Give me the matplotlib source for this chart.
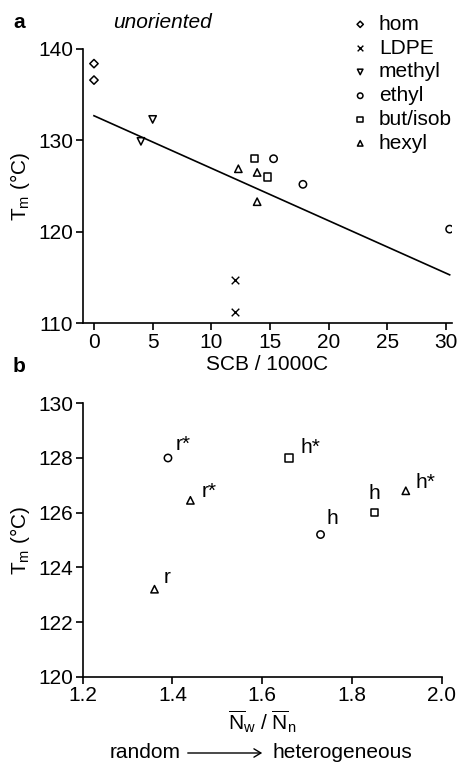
import matplotlib
matplotlib.use("Agg")
import matplotlib.pyplot as plt
import numpy as np

plt.rcParams['font.family'] = ['Liberation Sans', 'DejaVu Sans']
plt.rcParams['mathtext.fontset'] = 'custom'
plt.rcParams['mathtext.rm'] = 'Liberation Sans'
plt.rcParams['mathtext.it'] = 'Liberation Sans:italic'
plt.rcParams['font.size'] = 15

# panel a: Tm vs short chain branches
hom_x = [0, 0]
hom_y = [138.4, 136.6]
ldpe_x = [12, 12]
ldpe_y = [114.7, 111.2]
methyl_x = [4, 5]
methyl_y = [129.9, 132.3]
ethyl_x = [15.3, 17.8, 30.3]
ethyl_y = [128.0, 125.2, 120.3]
butisob_x = [13.7, 14.8]
butisob_y = [128.0, 126.0]
hexyl_x = [12.3, 13.9, 13.9]
hexyl_y = [126.9, 126.5, 123.3]
fit_x = [0, 30.3]
fit_y = [132.7, 115.3]

# panel b: Tm vs polydispersity of branch distribution
b_ethyl_x = [1.39, 1.73]
b_ethyl_y = [128.0, 125.2]
b_ethyl_lab = ["r*", "h"]
b_but_x = [1.66, 1.85]
b_but_y = [128.0, 126.0]
b_but_lab = ["h*", "h"]
b_hex_x = [1.36, 1.44, 1.92]
b_hex_y = [123.2, 126.45, 126.8]
b_hex_lab = ["r", "r*", "h*"]

W, H = 459, 763
fig = plt.figure(figsize=(W / 100, H / 100), dpi=100)

ax1 = fig.add_axes([82.7 / W, 1 - 323.3 / H, (452 - 82.7) / W, (323.3 - 49) / H])
ax2 = fig.add_axes([82.7 / W, 1 - 676.7 / H, (441.7 - 82.7) / W, (676.7 - 403.3) / H])

mk = dict(facecolor='none', edgecolor='black', linewidths=1.1, s=28)

ax1.scatter(hom_x, hom_y, marker='D', label='hom', **dict(mk, s=18))
ax1.scatter(ldpe_x, ldpe_y, marker='x', color='black', linewidths=1.0, s=30, label='LDPE')
ax1.scatter(methyl_x, methyl_y, marker='v', label='methyl', **mk)
ax1.scatter(ethyl_x, ethyl_y, marker='o', label='ethyl', **mk)
ax1.scatter(butisob_x, butisob_y, marker='s', label='but/isob', **mk)
ax1.scatter(hexyl_x, hexyl_y, marker='^', label='hexyl', **mk)
ax1.plot(fit_x, fit_y, color='black', lw=1.2)

ax1.set_xlim(-0.96, 30.5)
ax1.set_ylim(110, 140)
ax1.set_xticks([0, 5, 10, 15, 20, 25, 30])
ax1.set_yticks([110, 120, 130, 140])
ax1.set_xlabel('SCB / 1000C', labelpad=2)
ax1.set_ylabel(r'T$_\mathrm{m}$ (°C)', labelpad=4)

leg = ax1.legend(loc='upper left', bbox_to_anchor=(0.695, 1.155), frameon=False,
                 handletextpad=0.3, labelspacing=0.23, markerscale=0.75,
                 handlelength=1.2, borderaxespad=0)

ax2.scatter(b_ethyl_x, b_ethyl_y, marker='o', **mk)
ax2.scatter(b_but_x, b_but_y, marker='s', **mk)
ax2.scatter(b_hex_x, b_hex_y, marker='^', **mk)

# label offsets (pixels) as in the original figure
offs_ethyl = [(8, 13), (6, 16)]
offs_but = [(11, 10), (-6, 19)]
offs_hex = [(9, 12), (11, 9), (10, 8)]
for xs, ys, labs, offs in [(b_ethyl_x, b_ethyl_y, b_ethyl_lab, offs_ethyl),
                           (b_but_x, b_but_y, b_but_lab, offs_but),
                           (b_hex_x, b_hex_y, b_hex_lab, offs_hex)]:
    for x, y, t, o in zip(xs, ys, labs, offs):
        ax2.annotate(t, (x, y), xytext=o, textcoords='offset pixels',
                     ha='left', va='center', fontsize=15)

ax2.set_xlim(1.2, 2.0)
ax2.set_ylim(120, 130)
ax2.set_xticks([1.2, 1.4, 1.6, 1.8, 2.0])
ax2.set_yticks([120, 122, 124, 126, 128, 130])
ax2.set_xlabel(r'$\overline{\mathrm{N}}_\mathrm{w}$ / $\overline{\mathrm{N}}_\mathrm{n}$', labelpad=2)
ax2.set_ylabel(r'T$_\mathrm{m}$ (°C)', labelpad=4)

for ax in (ax1, ax2):
    ax.spines['top'].set_visible(False)
    ax.spines['right'].set_visible(False)
    ax.spines['left'].set_linewidth(1.2)
    ax.spines['bottom'].set_linewidth(1.2)
    ax.tick_params(direction='out', length=5, width=1.2, pad=2, labelsize=15)

ax2.xaxis.set_major_formatter(matplotlib.ticker.FormatStrFormatter('%.1f'))
ax1.xaxis.set_major_formatter(matplotlib.ticker.FormatStrFormatter('%d'))

fig.text(13 / W, 1 - 23 / H, 'a', fontweight='bold', fontsize=15, va='center', ha='left')
fig.text(163 / W, 1 - 23 / H, 'unoriented', fontstyle='italic', fontsize=15, va='center', ha='center')
fig.text(13 / W, 1 - 367 / H, 'b', fontweight='bold', fontsize=15, va='center', ha='left')

fig.text(181 / W, 1 - 753 / H, 'random', fontsize=15, va='center', ha='right')
fig.text(272 / W, 1 - 753 / H, 'heterogeneous', fontsize=15, va='center', ha='left')
fig.add_artist(matplotlib.patches.FancyArrowPatch(
    (185 / W, 1 - 753 / H), (265 / W, 1 - 753 / H), transform=fig.transFigure,
    arrowstyle='->,head_length=5,head_width=3', color='black', lw=1.0,
    mutation_scale=1))

fig.savefig('out.png', dpi=100)
